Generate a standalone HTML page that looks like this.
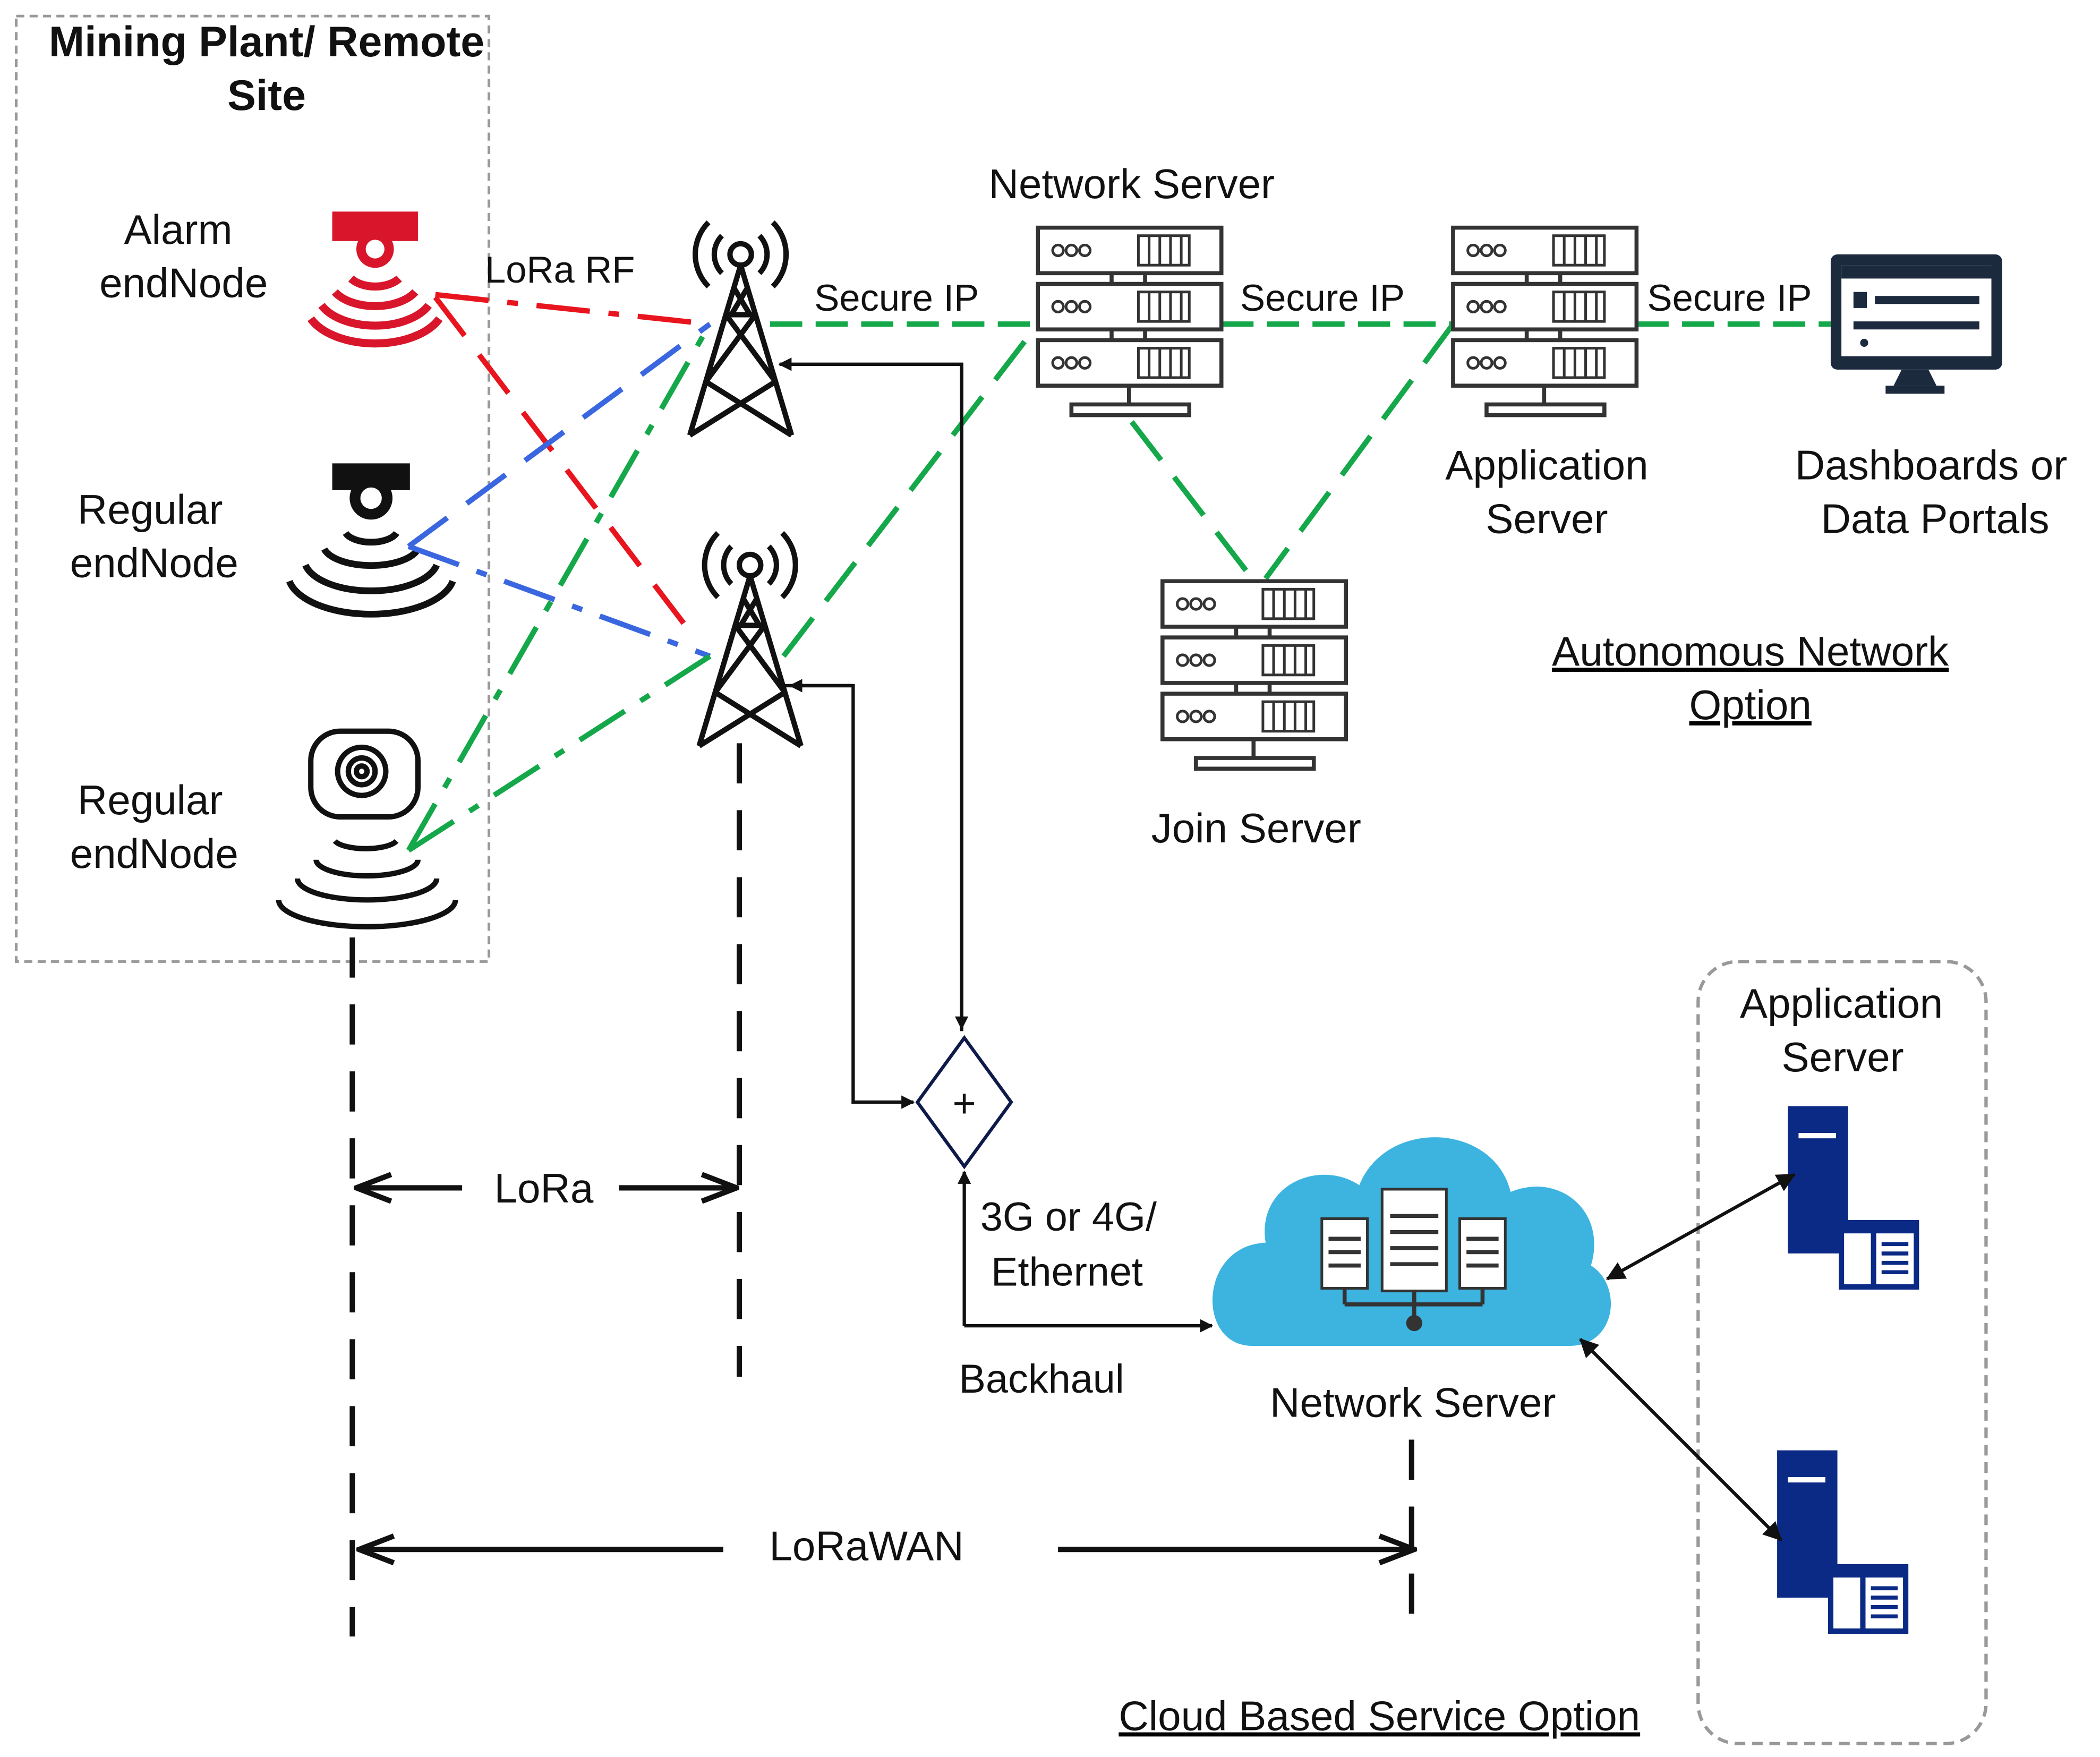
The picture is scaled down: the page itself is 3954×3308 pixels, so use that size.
<!DOCTYPE html>
<html><head><meta charset="utf-8"><style>
html,body{margin:0;padding:0;background:#fff;width:3954px;height:3308px;overflow:hidden}
svg{display:block}
text{font-family:"Liberation Sans",Arial,sans-serif;fill:#111}
</style></head><body>
<svg width="3954" height="3308" viewBox="0 0 1568 1312" xmlns="http://www.w3.org/2000/svg">
<defs>
<marker id="a" markerWidth="10" markerHeight="10" refX="9" refY="5" orient="auto" markerUnits="userSpaceOnUse"><path d="M0,0 L10,5 L0,10 z" fill="#111"/></marker>
<marker id="b" markerWidth="30" markerHeight="24" refX="28" refY="12" orient="auto" markerUnits="userSpaceOnUse"><path d="M2,2 L28,12 L2,22" fill="none" stroke="#111" stroke-width="4"/></marker>
<marker id="c" markerWidth="14" markerHeight="14" refX="13" refY="7" orient="auto-start-reverse" markerUnits="userSpaceOnUse"><path d="M0,0 L14,7 L0,14 z" fill="#111"/></marker>
<g id="srv">
<rect x="0" y="0" width="137" height="34" fill="#fff" stroke="#333" stroke-width="3"/>
<rect x="0" y="42" width="137" height="34" fill="#fff" stroke="#333" stroke-width="3"/>
<rect x="0" y="84" width="137" height="34" fill="#fff" stroke="#333" stroke-width="3"/>
<g fill="none" stroke="#333" stroke-width="2">
<circle cx="15" cy="17" r="4"/><circle cx="25" cy="17" r="4"/><circle cx="35" cy="17" r="4"/>
<circle cx="15" cy="59" r="4"/><circle cx="25" cy="59" r="4"/><circle cx="35" cy="59" r="4"/>
<circle cx="15" cy="101" r="4"/><circle cx="25" cy="101" r="4"/><circle cx="35" cy="101" r="4"/>
<rect x="75" y="6" width="38" height="22"/><rect x="75" y="48" width="38" height="22"/><rect x="75" y="90" width="38" height="22"/>
<path d="M83 6v22M91 6v22M99 6v22M107 6v22M83 48v22M91 48v22M99 48v22M107 48v22M83 90v22M91 90v22M99 90v22M107 90v22"/>
</g>
<path d="M55 34v8M80 34v8M55 76v8M80 76v8M68 118v14" stroke="#333" stroke-width="3"/>
<rect x="25" y="132" width="88" height="8" fill="#fff" stroke="#333" stroke-width="3"/>
</g>
<g id="tw" fill="none" stroke="#111" stroke-width="4">
<circle cx="0" cy="0" r="8"/>
<path d="M-14,-14 a20,20 0 0 0 0,28 M14,-14 a20,20 0 0 1 0,28 M-24,-24 a34,34 0 0 0 0,48 M24,-24 a34,34 0 0 1 0,48"/>
<path d="M0,8 L-38,135 M0,8 L38,135 M-11,45 L11,45 M-11,45 L26,95 M11,45 L-26,95 M-26,95 L38,135 M26,95 L-38,135 M-5,25 L7,45 M5,25 L-7,45"/>
</g>
<g id="bs">
<rect x="0" y="0" width="45" height="110" fill="#0b2a85"/>
<rect x="8" y="20" width="28" height="4" fill="#fff"/>
<rect x="38" y="85" width="60" height="52" fill="#0b2a85"/>
<rect x="42" y="95" width="20" height="38" fill="#fff"/><rect x="66" y="95" width="28" height="38" fill="#fff"/>
<path d="M70 103h20M70 110h20M70 117h20M70 124h20" stroke="#0b2a85" stroke-width="3"/>
<rect x="8" y="110" width="26" height="5" fill="#fff"/><rect x="8" y="122" width="26" height="5" fill="#fff"/>
</g>
</defs>

<rect x="12" y="12" width="353" height="706" fill="none" stroke="#999" stroke-width="2" stroke-dasharray="6 4"/>
<text x="199" y="42" font-size="32" font-weight="bold" text-anchor="middle">Mining Plant/ Remote</text>
<text x="199" y="82" font-size="32" font-weight="bold" text-anchor="middle">Site</text>
<g font-size="31" text-anchor="middle">
<text x="133" y="182">Alarm</text><text x="137" y="222">endNode</text>
<text x="112" y="391">Regular</text><text x="115" y="431">endNode</text>
<text x="112" y="608">Regular</text><text x="115" y="648">endNode</text>
</g>

<g>
<rect x="248" y="158" width="64" height="22" fill="#d8152a"/>
<circle cx="280" cy="186" r="14" fill="#d8152a"/><circle cx="280" cy="186" r="7" fill="#fff"/>
<g fill="none" stroke="#d8152a" stroke-width="6">
<path d="M262,208 a22,14 0 0 0 36,0 M250,218 a34,20 0 0 0 60,0 M240,228 a44,26 0 0 0 80,0 M232,238 a52,30 0 0 0 96,0"/>
</g>
</g>
<g>
<rect x="248" y="346" width="58" height="20" fill="#111"/>
<circle cx="277" cy="372" r="16" fill="#111"/><circle cx="277" cy="372" r="8" fill="#fff"/>
<g fill="none" stroke="#111" stroke-width="5">
<path d="M258,398 a20,10 0 0 0 38,0 M242,410 a36,16 0 0 0 70,0 M228,422 a50,24 0 0 0 98,0 M216,434 a62,30 0 0 0 122,0"/>
</g>
</g>
<g fill="none" stroke="#111" stroke-width="4">
<rect x="232" y="546" width="80" height="64" rx="22"/>
<circle cx="270" cy="576" r="18"/><circle cx="270" cy="576" r="10"/><circle cx="270" cy="576" r="4"/>
<path d="M250,628 a24,8 0 0 0 46,0 M236,642 a38,12 0 0 0 76,0 M222,656 a52,16 0 0 0 104,0 M208,672 a66,20 0 0 0 132,0"/>
</g>

<use href="#tw" x="553" y="190"/>
<use href="#tw" x="560" y="422"/>

<g fill="none" stroke-width="4">
<path d="M325,220 L530,242" stroke="#e8141e" stroke-dasharray="40 14 8 14"/>
<path d="M325,222 L520,478" stroke="#e8141e" stroke-dasharray="36 18"/>
<path d="M305,408 L530,242" stroke="#3a67e0" stroke-dasharray="36 18"/>
<path d="M305,408 L530,490" stroke="#3a67e0" stroke-dasharray="40 14 8 14"/>
<path d="M305,635 L530,242" stroke="#14a84a" stroke-dasharray="40 14 8 14"/>
<path d="M305,635 L530,490" stroke="#14a84a" stroke-dasharray="40 14 8 14"/>
<path d="M575,242 L775,242" stroke="#14a84a" stroke-dasharray="24 10"/>
<path d="M585,490 L775,242" stroke="#14a84a" stroke-dasharray="36 16"/>
<path d="M912,242 L1085,242" stroke="#14a84a" stroke-dasharray="24 10"/>
<path d="M1222,242 L1367,242" stroke="#14a84a" stroke-dasharray="24 10"/>
<path d="M845,315 L935,432" stroke="#14a84a" stroke-dasharray="36 16"/>
<path d="M1085,242 L945,432" stroke="#14a84a" stroke-dasharray="36 16"/>
</g>
<text x="362" y="211" font-size="28">LoRa RF</text>
<g font-size="28" paint-order="stroke" stroke="#fff" stroke-width="6">
<text x="608" y="232">Secure IP</text>
<text x="926" y="232">Secure IP</text>
<text x="1230" y="232">Secure IP</text>
</g>

<use href="#srv" x="775" y="170"/>
<use href="#srv" x="1085" y="170"/>
<use href="#srv" x="868" y="434"/>
<text x="845" y="148" font-size="31" text-anchor="middle">Network Server</text>
<text x="1155" y="358" font-size="31" text-anchor="middle">Application</text>
<text x="1155" y="398" font-size="31" text-anchor="middle">Server</text>
<text x="938" y="629" font-size="31" text-anchor="middle">Join Server</text>

<rect x="1367" y="190" width="128" height="86" rx="5" fill="#1c2a3e"/>
<rect x="1375" y="198" width="112" height="68" fill="#fff"/>
<rect x="1375" y="198" width="112" height="10" fill="#1c2a3e"/>
<rect x="1384" y="218" width="10" height="12" fill="#1c2a3e"/>
<rect x="1400" y="221" width="78" height="6" fill="#1c2a3e"/>
<rect x="1384" y="240" width="94" height="6" fill="#1c2a3e"/>
<circle cx="1392" cy="256" r="3" fill="#1c2a3e"/>
<path d="M1420,276 h20 l6,12 h-32 z" fill="#1c2a3e"/>
<rect x="1408" y="288" width="44" height="6" fill="#1c2a3e"/>
<text x="1442" y="358" font-size="31" text-anchor="middle">Dashboards or</text>
<text x="1445" y="398" font-size="31" text-anchor="middle">Data Portals</text>

<g font-size="31" text-anchor="middle" text-decoration="underline">
<text x="1307" y="497">Autonomous Network</text>
<text x="1307" y="537">Option</text>
<text x="1030" y="1292">Cloud Based Service Option</text>
</g>

<g fill="none" stroke="#111" stroke-width="2.5">
<path d="M718,770 L718,272 L582,272" marker-end="url(#a)"/>
<path d="M718,272 L718,768" marker-end="url(#a)"/>
<path d="M585,512 L637,512 L637,823 L682,823" marker-end="url(#a)"/>
<path d="M637,512 L590,512" marker-end="url(#a)"/>
<path d="M720,990 L720,875" marker-end="url(#a)"/>
<path d="M720,990 L905,990" marker-end="url(#a)"/>
</g>
<path d="M720,775 L755,823 L720,871 L685,823 z" fill="#fff" stroke="#0d1a4a" stroke-width="2.5"/>
<text x="720" y="834" font-size="30" text-anchor="middle">+</text>
<text x="732" y="919" font-size="30">3G or 4G/</text>
<text x="740" y="960" font-size="30">Ethernet</text>
<text x="716" y="1040" font-size="30">Backhaul</text>

<g stroke="#111" stroke-width="4" stroke-dasharray="30 20" fill="none">
<path d="M263,700 L263,1222"/>
<path d="M552,555 L552,1028"/>
<path d="M1054,1075 L1054,1218"/>
</g>
<g stroke="#111" stroke-width="4" fill="none">
<path d="M345,887 L266,887" marker-end="url(#b)"/>
<path d="M462,887 L550,887" marker-end="url(#b)"/>
<path d="M540,1157 L268,1157" marker-end="url(#b)"/>
<path d="M790,1157 L1056,1157" marker-end="url(#b)"/>
</g>
<text x="406" y="898" font-size="31" text-anchor="middle">LoRa</text>
<text x="647" y="1165" font-size="31" text-anchor="middle">LoRaWAN</text>

<path d="M935,1005 C893,1005 895,930 945,928 C938,885 985,865 1015,885 C1035,835 1115,838 1128,890 C1165,875 1200,905 1188,945 C1212,960 1207,1005 1172,1005 Z" fill="#3db4e0"/>
<g fill="#fff" stroke="#333" stroke-width="2">
<rect x="987" y="910" width="34" height="52"/><rect x="1032" y="888" width="48" height="76"/><rect x="1090" y="910" width="34" height="52"/>
</g>
<g stroke="#333" stroke-width="3">
<path d="M992,925h24M992,935h24M992,945h24M1038,908h36M1038,920h36M1038,932h36M1038,944h36M1095,925h24M1095,935h24M1095,945h24"/>
<path d="M1004,962v12M1056,964v22M1107,962v12M1004,974h103"/>
</g>
<circle cx="1056" cy="988" r="6" fill="#333"/>
<text x="1055" y="1058" font-size="31" text-anchor="middle">Network Server</text>

<rect x="1268" y="718" width="215" height="584" rx="30" fill="none" stroke="#999" stroke-width="2.5" stroke-dasharray="8 5"/>
<text x="1375" y="760" font-size="31" text-anchor="middle">Application</text>
<text x="1376" y="800" font-size="31" text-anchor="middle">Server</text>
<use href="#bs" x="1335" y="826"/>
<use href="#bs" x="1327" y="1083"/>
<g stroke="#111" stroke-width="2.5">
<path d="M1200,955 L1340,877" marker-start="url(#c)" marker-end="url(#c)"/>
<path d="M1180,1000 L1330,1150" marker-start="url(#c)" marker-end="url(#c)"/>
</g>
</svg>
</body></html>
